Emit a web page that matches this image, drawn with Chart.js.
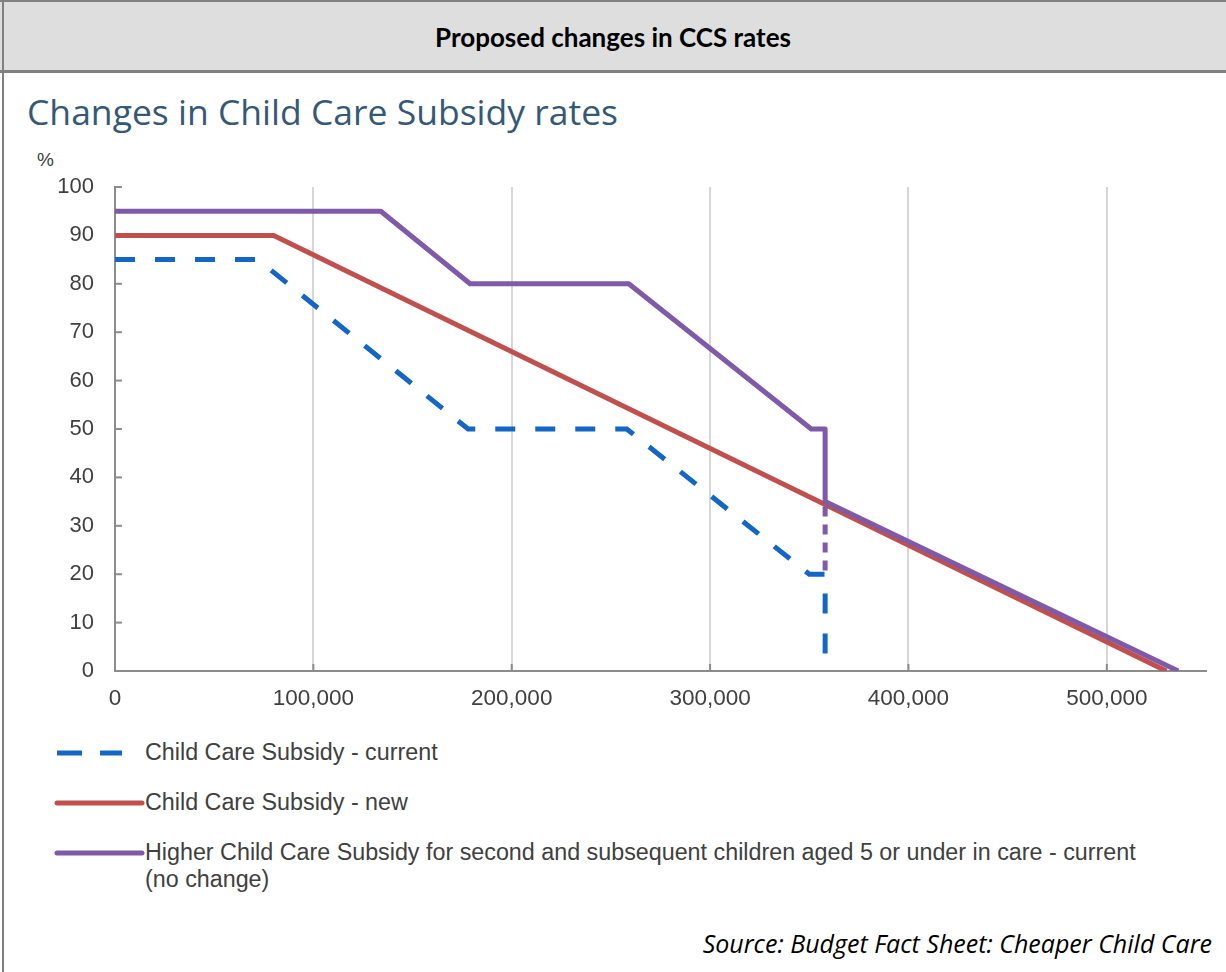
<!DOCTYPE html>
<html>
<head>
<meta charset="utf-8">
<script src="https://cdn.jsdelivr.net/npm/chart.js@4.4.0/dist/chart.umd.min.js"></script>
<style>
html,body{margin:0;padding:0;background:#fff;}
#page{position:relative;width:1226px;height:972px;overflow:hidden;background:#fff;font-family:"Liberation Sans",Arial,sans-serif;}
#header{position:absolute;left:0;top:0;width:1226px;height:68px;background:#dedede;border-top:2px solid #808080;border-bottom:3px solid #808080;text-align:center;}
#header span{display:block;line-height:70px;font-family:Lato,"Open Sans",sans-serif;font-weight:bold;font-size:26px;color:#000;}
#lborder{position:absolute;left:2px;top:0;width:2px;height:972px;background:#808080;}
#title{position:absolute;left:27px;top:93px;font-family:"Open Sans",sans-serif;font-size:35.5px;line-height:36px;color:#355877;white-space:nowrap;}
#pct{position:absolute;left:37px;top:150px;font-size:19px;line-height:20px;color:#404040;}
#chartbox{position:absolute;left:0;top:150px;width:1226px;height:561px;}
.leg{position:absolute;left:50px;width:1170px;height:30px;}
.leg svg{position:absolute;left:0;top:0;}
.leg span{position:absolute;left:95px;top:0;font-size:23.3px;line-height:27px;color:#404040;white-space:nowrap;}
#source{position:absolute;right:14px;top:928px;font-family:"Open Sans",sans-serif;font-style:italic;font-size:25px;line-height:30px;color:#000;white-space:nowrap;}
</style>
</head>
<body>
<div id="page">
  <div id="header"><span>Proposed changes in CCS rates</span></div>
  <div id="lborder"></div>
  <div id="title">Changes in Child Care Subsidy rates</div>
  <div id="pct">%</div>
  <div id="chartbox"><canvas id="c" width="1226" height="561"></canvas></div>
  <div class="leg" style="top:739px;">
    <svg width="95" height="30"><line x1="7" y1="14" x2="32" y2="14" stroke="#1466c6" stroke-width="5"/><line x1="50" y1="14" x2="72" y2="14" stroke="#1466c6" stroke-width="5"/></svg>
    <span id="l1"></span>
  </div>
  <div class="leg" style="top:789px;">
    <svg width="95" height="30"><line x1="7" y1="14" x2="92" y2="14" stroke="#c0504d" stroke-width="5" stroke-linecap="round"/></svg>
    <span id="l2"></span>
  </div>
  <div class="leg" style="top:839px;height:60px;">
    <svg width="95" height="30"><line x1="7" y1="14" x2="92" y2="14" stroke="#7f5aa8" stroke-width="5" stroke-linecap="round"/></svg>
    <span id="l3"></span>
  </div>
  <div id="source">Source: Budget Fact Sheet: Cheaper Child Care</div>
</div>
<script>
// ---- Data ----
const seriesNames = [
  "Child Care Subsidy - current",
  "Child Care Subsidy - new",
  "Higher Child Care Subsidy for second and subsequent children aged 5 or under in care - current",
  "(no change)"
];
const currentIncome = [0, 72000, 178000, 258000, 350000, 358000, 358000];
const currentRate   = [85, 85, 50, 50, 20, 20, 3];
const newIncome     = [0, 80000, 530000];
const newRate       = [90, 90, 0];
const higherIncome  = [0, 134000, 179000, 259000, 351000, 358000, 358000, 536000];
const higherRate    = [95, 95, 80, 80, 50, 50, 35, 0];
const higherDashIncome = [358000, 358000];
const higherDashRate   = [34, 20];
const xTickValues = [0, 100000, 200000, 300000, 400000, 500000];
const yTickValues = [0, 10, 20, 30, 40, 50, 60, 70, 80, 90, 100];

document.getElementById('l1').textContent = seriesNames[0];
document.getElementById('l2').textContent = seriesNames[1];
document.getElementById('l3').innerHTML = seriesNames[2] + '<br>' + seriesNames[3];

function pts(xs, ys){ return xs.map((x,i)=>({x:x, y:ys[i]})); }

const FONT = '"Liberation Sans", Arial, sans-serif';

const innerTicks = {
  id:'innerTicks',
  beforeDatasetsDraw(chart){
    const {ctx, chartArea:a, scales:{x, y}} = chart;
    ctx.save();
    ctx.strokeStyle = '#8c8c8c';
    ctx.lineWidth = 2;
    y.ticks.forEach(t=>{
      const py = y.getPixelForValue(t.value);
      ctx.beginPath(); ctx.moveTo(a.left, py); ctx.lineTo(a.left+7, py); ctx.stroke();
    });
    x.ticks.forEach(t=>{
      if (t.value === 0) return;
      const px = x.getPixelForValue(t.value);
      ctx.beginPath(); ctx.moveTo(px, a.bottom); ctx.lineTo(px, a.bottom-7); ctx.stroke();
    });
    ctx.restore();
  }
};

new Chart(document.getElementById('c'), {
  type:'line',
  data:{
    datasets:[
      {label:seriesNames[2], data:pts(higherIncome, higherRate), borderColor:'#7f5aa8', borderWidth:5, pointRadius:0, tension:0, borderJoinStyle:'round', order:0},
      {label:'higher-dash', data:pts(higherDashIncome, higherDashRate), borderColor:'#7f5aa8', borderWidth:5, borderDash:[10,8], borderCapStyle:'butt', pointRadius:0, order:1},
      {label:seriesNames[1], data:pts(newIncome, newRate), borderColor:'#c0504d', borderWidth:5, pointRadius:0, tension:0, borderJoinStyle:'round', order:2},
      {label:seriesNames[0], data:pts(currentIncome, currentRate), borderColor:'#1466c6', borderWidth:5, borderDash:[20,20], borderCapStyle:'butt', pointRadius:0, tension:0, order:3}
    ]
  },
  options:{
    responsive:false,
    animation:false,
    devicePixelRatio:1,
    layout:{padding:{left:0, right:20, top:37, bottom:0}},
    plugins:{legend:{display:false}, tooltip:{enabled:false}},
    scales:{
      x:{
        type:'linear', min:0, max:550000,
        afterBuildTicks:s=>{ s.ticks = xTickValues.map(v=>({value:v})); },
        ticks:{autoSkip:false, maxRotation:0, padding:14, color:'#404040', font:{family:FONT, size:22.5},
          callback:v=>Number(v).toLocaleString('en-US')},
        grid:{drawTicks:false, lineWidth:2, color:ctx=> (ctx.tick && ctx.tick.value===0) ? 'rgba(0,0,0,0)' : '#d6d6d6'},
        border:{display:true, color:'#8c8c8c', width:2},
        afterFit:s=>{s.height=40;}
      },
      y:{
        min:0, max:100,
        afterBuildTicks:s=>{ s.ticks = yTickValues.map(v=>({value:v})); },
        ticks:{padding:21, color:'#404040', font:{family:FONT, size:22}},
        grid:{display:false, drawTicks:false},
        border:{display:true, color:'#8c8c8c', width:2},
        afterFit:s=>{s.width=115;}
      }
    }
  },
  plugins:[innerTicks]
});
</script>
</body>
</html>
